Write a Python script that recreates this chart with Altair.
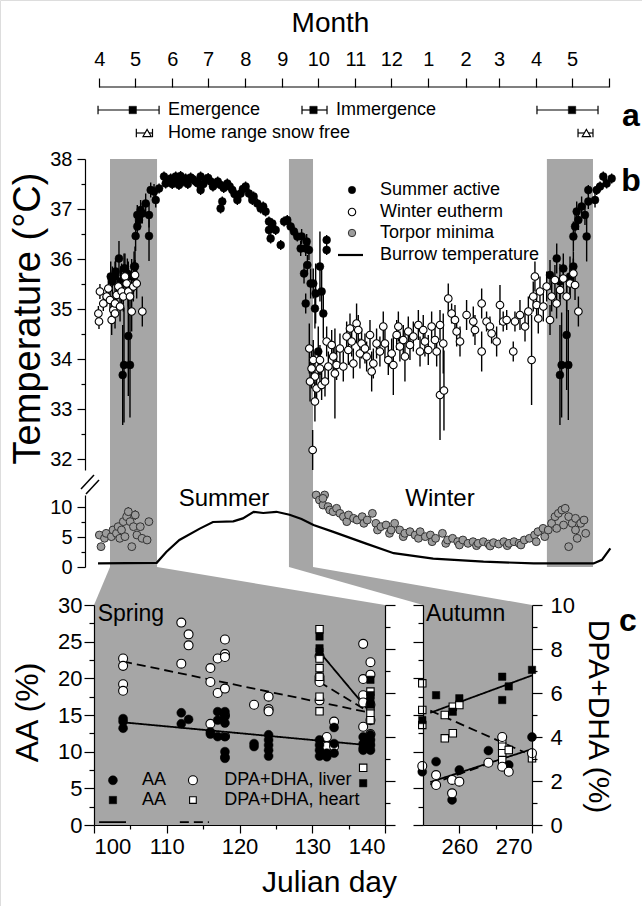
import altair as alt
import pandas as pd

FONT = "Liberation Sans"
W, H = 642, 906
BAND = "#a6a6a6"
TORPOR_FILL = "#9c9c9c"

# ---------------- panel a : months & phenology ----------------
month_days = [91, 121, 152, 182, 213, 244, 274, 305, 335, 366, 397, 425, 456, 486, 517]
month_labels = ["4", "5", "6", "7", "8", "9", "10", "11", "12", "1", "2", "3", "4", "5", ""]
emergence = [(90, 119, 141), (260.4, 270, 281.3), (456.7, 486, 507.7)]   # (lo, mean, hi)
snow_free = [(122, 131, 135.5), (491, 498, 503.5)]
phen_text = ["Emergence", "Immergence", "Home range snow free"]

# ---------------- panel b : body temperature ----------------
bands = [(100, 139.3), (249.5, 269.6), (465, 503.5)]
summer_active = [  # (julian day, Tb, sd)
    (100.6, 35.65, 0.3), (102.0, 35.55, 0.3), (104.2, 35.65, 0.3), (104.7, 35.75, 0.25), (107.5, 36.01, 0.35),
    (108.9, 35.55, 0.3), (109.7, 35.51, 0.4), (111.7, 35.81, 0.3), (112.5, 35.81, 0.3), (114.5, 35.71, 0.3),
    (115.3, 35.45, 0.5), (118.1, 35.65, 0.35), (120.1, 35.85, 0.3), (120.9, 35.85, 0.4), (120.1, 35.65, 0.3),
    (115.3, 34.46, 1.2), (110.6, 33.68, 1.0), (111.7, 33.88, 1.15), (116.7, 33.88, 1.05),
    (121.4, 36.46, 0.3), (122.8, 36.65, 0.25), (124.2, 36.78, 0.2), (122.8, 36.88, 0.2), (125.6, 36.98, 0.2),
    (127.0, 36.91, 0.2), (129.8, 37.11, 0.2), (132.6, 36.88, 0.25), (132.6, 36.46, 0.5), (134.0, 37.38, 0.15),
    (136.8, 37.35, 0.15), (138.2, 37.18, 0.15), (141.0, 37.41, 0.1), (145.1, 37.65, 0.1), (146.5, 37.51, 0.1),
    (148.0, 37.55, 0.1), (150.7, 37.61, 0.1), (152.0, 37.50, 0.1), (154.9, 37.65, 0.1), (156.0, 37.58, 0.1),
    (157.6, 37.48, 0.1), (159.0, 37.66, 0.1), (161.0, 37.55, 0.1), (163.2, 37.61, 0.1), (165.0, 37.50, 0.1),
    (167.4, 37.63, 0.1), (169.0, 37.60, 0.1), (171.6, 37.55, 0.1), (173.0, 37.52, 0.1), (175.7, 37.65, 0.1),
    (175.7, 37.38, 0.1), (178.0, 37.50, 0.1), (179.9, 37.59, 0.1), (182.0, 37.62, 0.1), (184.1, 37.55, 0.1),
    (186.0, 37.45, 0.1), (188.3, 37.51, 0.1), (190.0, 37.55, 0.1), (192.4, 37.48, 0.1), (192.4, 37.01, 0.1),
    (193.8, 37.15, 0.1), (195.0, 37.42, 0.1), (198.0, 37.51, 0.1), (200.0, 37.45, 0.1), (202.2, 37.38, 0.1),
    (204.0, 37.30, 0.1), (206.4, 37.18, 0.1), (209.2, 37.31, 0.1), (211.0, 37.40, 0.1), (213.3, 37.45, 0.1),
    (216.1, 37.31, 0.1), (218.9, 37.18, 0.1), (220.0, 37.25, 0.1), (223.1, 37.11, 0.1), (225.9, 37.01, 0.1),
    (228.0, 37.05, 0.1), (230.0, 36.95, 0.1), (232.8, 36.75, 0.1), (235.6, 36.71, 0.1), (232.8, 36.58, 0.1),
    (238.4, 36.58, 0.1), (234.2, 36.41, 0.1), (242.6, 36.28, 0.1), (245.4, 36.75, 0.1), (248.1, 36.78, 0.1),
    (250.9, 36.65, 0.1), (253.7, 36.55, 0.1), (256.5, 36.45, 0.1), (259.3, 36.21, 0.15), (260.1, 36.45, 0.15),
    (263.5, 36.21, 0.15), (264.3, 36.35, 0.15), (266.2, 36.18, 0.2), (264.9, 35.88, 0.2), (262.1, 35.71, 0.2),
    (267.6, 35.51, 0.3), (263.5, 35.11, 0.2), (269.8, 35.51, 0.3), (271.8, 35.31, 0.6), (271.2, 35.01, 0.4),
    (275.4, 35.85, 0.7), (276.8, 35.35, 0.5), (278.2, 34.91, 0.5), (281.0, 36.38, 0.1), (281.0, 36.18, 0.1),
    (274.0, 34.15, 0.5),
    (467.6, 35.68, 0.3), (473.2, 36.01, 0.3), (475.9, 35.55, 0.35), (478.7, 35.81, 0.3), (484.3, 35.65, 0.4),
    (487.1, 35.85, 0.3), (481.5, 34.48, 1.1), (477.3, 33.88, 1.05), (482.9, 33.88, 1.1), (475.9, 33.68, 1.0),
    (487.1, 36.45, 0.3), (498.2, 36.45, 0.5), (488.5, 36.65, 0.25), (491.3, 36.78, 0.2), (489.9, 36.95, 0.2),
    (496.8, 36.88, 0.2), (494.0, 37.05, 0.2), (499.6, 37.15, 0.15), (505.2, 37.18, 0.15), (499.6, 37.38, 0.1),
    (506.6, 37.38, 0.1), (509.4, 37.45, 0.1), (514.9, 37.51, 0.1), (512.1, 37.65, 0.1), (519.1, 37.61, 0.1),
]
winter_eutherm = [
    (90.8, 34.75, 0.15), (90.3, 34.91, 0.15), (91.6, 35.35, 0.15), (94.4, 35.11, 0.15), (97.2, 35.25, 0.2),
    (98.6, 35.41, 0.2), (100.0, 35.18, 0.2), (101.4, 34.78, 0.3), (102.8, 34.98, 0.2), (104.2, 35.11, 0.2),
    (104.2, 34.91, 0.3), (105.6, 35.28, 0.2), (107.0, 35.45, 0.2), (108.4, 35.05, 0.3), (109.7, 35.35, 0.2),
    (111.1, 35.25, 0.3), (112.5, 35.65, 0.2), (113.9, 35.51, 0.2), (115.3, 35.35, 0.3), (116.7, 35.25, 0.3),
    (118.1, 34.95, 0.4), (119.5, 35.45, 0.3), (120.9, 35.68, 0.3), (122.3, 35.51, 0.3), (127.0, 34.95, 0.3),
    (266.5, 34.21, 0.5), (269.3, 32.18, 0.4), (269.8, 33.98, 0.4), (268.4, 33.81, 0.4), (271.2, 33.65, 0.5),
    (267.1, 33.55, 0.4), (272.6, 33.41, 0.3), (271.2, 33.15, 0.4), (275.4, 33.98, 0.3), (276.8, 33.48, 0.3),
    (279.6, 33.55, 0.3), (275.4, 33.81, 0.3), (281.0, 34.35, 0.3), (282.4, 33.85, 0.3), (285.2, 34.28, 0.3),
    (286.5, 34.05, 0.3), (287.9, 33.71, 0.9), (289.3, 33.88, 0.3), (292.1, 34.21, 0.3), (294.9, 33.85, 0.3),
    (297.7, 34.45, 0.3), (299.1, 34.18, 0.3), (300.5, 34.61, 0.3), (301.9, 34.35, 0.3), (303.3, 33.91, 0.3),
    (306.0, 34.71, 0.4), (307.4, 34.58, 0.3), (308.8, 34.11, 0.3), (310.2, 34.31, 0.3), (313.0, 34.21, 0.3),
    (314.4, 34.05, 0.3), (317.2, 34.48, 0.3), (318.6, 33.75, 0.4), (320.0, 33.91, 0.3), (322.7, 34.31, 0.3),
    (325.5, 34.15, 0.3), (328.3, 34.65, 0.3), (329.7, 34.31, 0.3), (332.5, 33.98, 0.3), (335.3, 34.11, 0.3),
    (336.7, 33.88, 0.6), (339.5, 34.48, 0.3), (340.9, 34.65, 0.3), (342.2, 34.25, 0.3), (345.0, 34.38, 0.3),
    (346.4, 34.05, 0.5), (349.2, 34.55, 0.3), (350.6, 34.28, 0.3), (353.4, 34.45, 0.3), (357.6, 34.68, 0.3),
    (359.0, 34.15, 0.3), (361.7, 34.58, 0.3), (363.1, 34.35, 0.3), (365.9, 34.18, 0.3), (368.7, 34.65, 0.3),
    (371.5, 34.38, 0.3), (372.9, 34.15, 0.3), (375.7, 34.68, 0.3), (375.7, 33.28, 0.9), (379.0, 33.37, 0.8),
    (378.4, 34.31, 0.6), (382.6, 35.21, 0.3), (385.4, 34.91, 0.2), (388.2, 34.78, 0.3), (389.6, 34.55, 0.3),
    (392.4, 34.35, 0.3), (397.9, 34.88, 0.3), (403.5, 34.75, 0.3), (404.9, 34.58, 0.3), (410.5, 35.11, 0.3),
    (410.5, 34.15, 0.4), (414.6, 34.75, 0.2), (417.4, 34.65, 0.2), (418.8, 34.51, 0.2), (423.0, 34.35, 0.3),
    (425.8, 35.08, 0.4), (428.5, 34.75, 0.2), (431.4, 34.78, 0.2), (436.9, 34.15, 0.2), (438.3, 34.75, 0.2),
    (442.5, 34.88, 0.3), (446.7, 34.65, 0.3), (449.5, 34.95, 0.3), (452.2, 33.98, 0.9), (453.6, 35.25, 0.3),
    (456.4, 35.08, 0.3), (457.8, 34.81, 0.3), (455.0, 35.65, 0.3), (459.2, 35.35, 0.3), (462.0, 35.05, 0.3),
    (464.8, 35.45, 0.3), (467.6, 34.78, 0.3), (469.0, 35.25, 0.3), (471.7, 35.58, 0.3), (473.1, 35.11, 0.3),
    (476.0, 35.38, 0.3), (478.7, 35.61, 0.3), (481.5, 35.25, 0.3), (484.3, 35.51, 0.3), (487.1, 35.71, 0.3),
    (488.5, 35.48, 0.3), (491.3, 34.95, 0.3),
]
torpor_minima = [  # (julian day, Tb, sd)
    (91.1, 5.33, 0.3), (92.5, 3.39, 0.3), (95.4, 4.78, 0.3), (96.8, 5.61, 0.6), (101.1, 5.06, 0.3),
    (102.5, 6.17, 0.3), (105.4, 5.61, 0.3), (106.8, 6.72, 0.6), (108.2, 4.78, 0.3), (109.6, 6.17, 0.3),
    (111.1, 7.56, 0.3), (112.5, 5.06, 0.3), (113.9, 8.39, 0.3), (115.3, 9.22, 0.8), (116.8, 7.56, 0.3),
    (118.2, 3.39, 0.3), (119.6, 6.72, 0.3), (121.1, 8.67, 0.8), (122.5, 5.33, 0.3), (125.3, 6.72, 0.3),
    (126.8, 4.78, 0.3), (131.0, 4.5, 0.3), (132.5, 7.56, 0.3),
    (272.2, 12.0, 0.3), (279.3, 12.0, 0.3), (275.0, 11.17, 0.3), (277.9, 10.33, 0.3), (277.9, 11.44, 0.3),
    (282.2, 10.06, 0.3), (283.6, 9.5, 0.3), (286.4, 9.22, 0.3), (289.3, 9.78, 0.3), (292.1, 8.94, 0.3),
    (295.0, 8.39, 0.3), (297.8, 7.56, 0.3), (299.3, 8.67, 0.3), (303.5, 8.11, 0.3), (306.4, 7.83, 0.3),
    (310.7, 8.39, 0.3), (312.1, 7.28, 0.3), (314.9, 7.83, 0.3), (319.2, 8.94, 0.6), (322.1, 7.28, 0.3),
    (323.5, 6.17, 0.3), (326.3, 6.72, 0.3), (330.6, 7.0, 0.3), (333.5, 5.61, 0.3), (334.9, 6.17, 0.3),
    (337.8, 7.28, 0.3), (342.0, 6.17, 0.3), (345.0, 5.06, 0.3), (346.3, 5.61, 0.3), (350.6, 5.89, 0.3),
    (354.9, 5.33, 0.3), (357.7, 4.78, 0.3), (359.1, 5.89, 0.3), (363.4, 5.06, 0.3), (367.7, 5.33, 0.3),
    (369.1, 4.22, 0.3), (372.0, 4.78, 0.3), (377.7, 5.61, 0.5), (380.5, 3.94, 0.3), (382.0, 4.5, 0.3),
    (386.2, 4.78, 0.3), (390.5, 4.22, 0.3), (391.9, 3.67, 0.3), (394.8, 4.5, 0.3), (399.1, 3.94, 0.3),
    (403.3, 4.22, 0.3), (406.2, 3.56, 0.3), (407.6, 3.94, 0.3), (411.9, 4.22, 0.3), (416.2, 3.83, 0.3),
    (417.6, 3.5, 0.3), (420.4, 4.06, 0.3), (424.7, 3.83, 0.3), (429.0, 4.22, 0.3), (431.9, 3.56, 0.3),
    (433.3, 3.94, 0.3), (437.5, 4.22, 0.3), (441.8, 3.94, 0.3), (443.3, 3.67, 0.3), (446.1, 4.5, 0.3),
    (450.4, 4.78, 0.3), (454.7, 5.33, 0.3), (456.1, 4.22, 0.3), (457.5, 5.89, 0.3), (461.8, 6.44, 0.3),
    (463.2, 5.06, 0.3), (466.1, 6.17, 0.3), (468.9, 7.28, 0.3), (471.8, 8.39, 0.3), (473.2, 6.44, 0.3),
    (474.6, 8.94, 0.3), (477.5, 9.5, 0.6), (478.9, 7.0, 0.3), (480.3, 9.78, 0.7), (483.2, 8.39, 0.3),
    (483.2, 3.39, 0.3), (486.1, 7.28, 0.3), (488.9, 6.17, 0.3), (488.9, 8.11, 0.3), (490.3, 4.78, 0.3),
    (493.2, 7.28, 0.3), (496.0, 7.83, 0.3), (497.4, 5.61, 0.3),
]
burrow_temp = [(90, 0.6), (139, 0.7), (147, 2.5), (158, 4.5), (175, 6.4), (186, 7.5), (203, 7.6), (211, 8.1),
               (220, 9.2), (228, 9.0), (239, 9.2), (250, 8.7), (260, 8.0), (270, 7.0), (286, 5.9), (314, 3.9),
               (337, 2.3), (370, 1.4), (412, 0.9), (454, 0.6), (504, 0.6), (511, 1.2), (518, 3.1)]
legend_b = ["Summer active", "Winter eutherm", "Torpor minima", "Burrow temperature"]

# ---------------- panel c : fatty acids ----------------
spring_aa_liver = [(104, 14.5), (104, 14.1), (104, 13.2), (112, 15.3), (112, 13.8), (113, 14.4), (116, 12.7),
                   (116, 12.4), (117, 15.45), (117, 14.3), (117, 12.05), (118, 15.45), (118, 14.8), (118, 13.9),
                   (118, 12.05), (118, 10.0), (118, 9.3), (118, 9.1), (122, 11.1), (122, 10.7), (124, 12.3),
                   (124, 11.6), (124, 10.9), (124, 10.2), (124, 9.4), (131, 11.6), (131, 10.9), (131, 10.2),
                   (131, 9.4), (132, 9.8), (132, 9.3), (133, 13.3), (133, 11.1), (133, 9.8), (137, 12.0),
                   (137, 11.1), (137, 10.5), (137, 10.2), (138, 11.6), (138, 10.9), (138, 10.2), (138, 12.3)]
spring_aa_heart = [(131, 25.7), (131, 24.1), (131, 23.6), (137, 5.7), (138, 19.8), (138, 17.7), (138, 17.3),
                   (138, 16.4), (138, 11.5), (138, 10.8)]
spring_dpa_liver = [(104, 22.7), (104, 21.7), (104, 19.2), (104, 18.3), (112, 27.6), (112, 22.0), (113, 26.0),
                    (113, 24.5), (116, 21.4), (116, 19.5), (116, 13.8), (117, 22.7), (117, 18.0), (118, 25.3),
                    (118, 23.3), (118, 22.9), (118, 18.6), (118, 15.0), (118, 12.1), (122, 16.4), (124, 17.5),
                    (124, 15.8), (124, 15.5), (131, 23.0), (131, 20.2), (131, 19.8), (131, 19.5), (131, 17.0),
                    (132, 12.0), (132, 10.7), (133, 14.1), (133, 10.7), (137, 24.7), (137, 19.9), (137, 17.7),
                    (137, 16.7), (137, 13.4), (138, 22.2), (138, 20.5), (138, 16.4), (138, 14.3), (138, 12.4)]
spring_dpa_heart = [(131, 26.7), (131, 22.7), (131, 21.4), (131, 20.2), (131, 17.5), (131, 15.5), (137, 7.8),
                    (138, 18.2), (138, 16.1), (138, 15.2), (138, 14.3)]
spring_fits = [("aa_l", "solid", 104, 14.0), ("aa_l", "solid", 137.5, 10.9),
               ("dpa_l", "dashed", 104, 22.3), ("dpa_l", "dashed", 138, 15.3),
               ("aa_h", "solid", 131, 23.6), ("aa_h", "solid", 138, 15.3),
               ("dpa_h", "dashed", 131, 19.5), ("dpa_h", "dashed", 138, 15.3)]
autumn_aa_heart = [(254.9, 4.77), (256.8, 5.9), (259.1, 5.15), (260, 5.76), (265.9, 6.74), (265.9, 5.68),
                   (266.8, 6.3), (270, 7.05)]
autumn_dpa_heart = [(254.9, 6.44), (254.9, 5.23), (254.9, 4.55), (258, 5.0), (258, 3.94), (259.1, 4.17),
                    (259.1, 5.38), (260, 5.45), (265.9, 3.86), (265.9, 3.56), (265.9, 3.26), (265.9, 2.95),
                    (266.8, 3.41), (270, 3.03)]
autumn_aa_liver = [(254.9, 2.42), (256.8, 2.88), (259.0, 1.14), (260, 2.5), (264, 3.38), (266.8, 2.73), (270, 4.0)]
autumn_dpa_liver = [(254.9, 2.68), (256.8, 2.27), (256.8, 1.82), (259, 2.05), (259, 1.44), (260, 1.97),
                    (264, 2.83), (265.9, 4.0), (265.9, 2.65), (266.8, 2.42), (270, 3.26)]
autumn_fits = [("aa_h", "solid", 256, 5.1), ("aa_h", "solid", 270, 6.8),
               ("dpa_h", "dashed", 256, 5.2), ("dpa_h", "dashed", 269, 3.3),
               ("aa_l", "solid", 256, 1.95), ("aa_l", "solid", 270, 3.45),
               ("dpa_l", "dashed", 256, 1.85), ("dpa_l", "dashed", 265, 2.9)]
legend_c = ["AA", "DPA+DHA, liver", "AA", "DPA+DHA, heart"]


# ================= helpers =================
def lin(domain, rng):
    return alt.Scale(domain=domain, range=rng, zero=False, nice=False)


PX_PER_DAY = 1.197


def px_day(px):          # panel a/b day axis: 110 px <-> day 100
    return 100 + (px - 110) / PX_PER_DAY


def day_px(d):
    return 110 + (d - 100) * PX_PER_DAY


S_DAY = lin([80, 530], [day_px(80), day_px(530)])
S_ROW = lin([0, 1], [110, 133])
S_UP = lin([31.78, 38], [470, 159])
S_LOW = lin([0, 12], [567, 495])
S_CON = lin([0, 1], [605, 567])
S_SPX = lin([100, 140], [94, 385])
S_P30 = lin([0, 30], [825, 605])
S_P10 = lin([0, 10], [825, 605])
S_AUX = lin([255, 270], [423, 532])
S_PX = lin([0, W], [0, W])          # frame scales used only for the axis-break glyph
S_PY = lin([0, H], [0, H])


def up_v(py):            # pixel row -> value on the upper temperature scale
    return 38 - (py - 159) / 50


def axis(orient, offset, values, size, labels=True, domain=True, **kw):
    base = dict(orient=orient, offset=offset, values=values, tickSize=size, labels=labels, domain=domain,
                grid=False, ticks=True, tickColor="black", tickWidth=1.2, domainColor="black", domainWidth=1.2,
                labelColor="black", labelFont=FONT, labelOverlap=False, titleFont=FONT, titleColor="black",
                titleFontWeight="normal", zindex=1)
    base.update(kw)
    if "title" not in base:
        base["title"] = None
    return alt.Axis(**base)


def ghost(xs, ys, xaxis=None, yaxis=None):
    df = pd.DataFrame({"gx": [xs.domain[0]], "gy": [ys.domain[0]]})
    return alt.Chart(df).mark_point(opacity=0, size=1).encode(
        x=alt.X("gx:Q", scale=xs, axis=xaxis), y=alt.Y("gy:Q", scale=ys, axis=yaxis))


def txt(size, align="left", bold=False, angle=0):
    return dict(font=FONT, fontSize=size, align=align, baseline="middle", color="black",
                fontWeight="bold" if bold else "normal", angle=angle)


OPEN = dict(filled=True, fill="white", stroke="black", strokeWidth=1.1, opacity=1)
SOLID = dict(filled=True, fill="black", stroke="black", strokeWidth=0.5, opacity=1)

# ================= panel a =================
label_list = "[" + ",".join("'%s'" % l for l in month_labels) + "]"
day_list = "[" + ",".join(str(d) for d in month_days) + "]"
AX_MONTH = axis("top", -87, month_days, 9, domain=False, labelFontSize=20, labelPadding=9,
                labelExpr=label_list + "[indexof(" + day_list + ", datum.value)]",
                title="Month", titleFontSize=28, titleX=330, titleY=-64, titleBaseline="middle",
                titleAlign="center", titleAngle=0)


def xa(f):
    return alt.X(f, type="quantitative", scale=S_DAY, axis=AX_MONTH)


def ya(f):
    return alt.Y(f, type="quantitative", scale=S_ROW, axis=None)


df_mline = pd.DataFrame({"m0": [month_days[0]], "m1": [month_days[-1]], "row": [-1]})
df_em = pd.DataFrame(emergence, columns=["lo", "mid", "hi"]).assign(row=0)
df_sn = pd.DataFrame(snow_free, columns=["lo", "mid", "hi"]).assign(row=1)
df_ph = pd.concat([df_em, df_sn], ignore_index=True)
df_caps = pd.concat([df_ph[["lo", "row"]].rename(columns={"lo": "c"}),
                     df_ph[["hi", "row"]].rename(columns={"hi": "c"})], ignore_index=True)
df_atxt = pd.DataFrame({"t": phen_text, "x": [px_day(168), px_day(336), px_day(168)], "row": [0, 0, 1]})
df_a = pd.DataFrame({"t": ["a"], "x": [px_day(631)], "row": [0.26]})

panel_a = alt.layer(
    alt.Chart(df_mline).mark_rule(color="black", strokeWidth=1.2).encode(x=xa("m0"), x2="m1:Q", y=ya("row")),
    alt.Chart(df_ph).mark_rule(color="black", strokeWidth=1.2).encode(x=xa("lo"), x2="hi:Q", y=ya("row")),
    alt.Chart(df_caps).mark_point(shape="M0,-1L0,1", size=70, stroke="black", strokeWidth=1.2, opacity=1)
    .encode(x=xa("c"), y=ya("row")),
    alt.Chart(df_em).mark_point(shape="square", size=55, **SOLID).encode(x=xa("mid"), y=ya("row")),
    alt.Chart(df_sn).mark_point(shape="triangle-up", size=70, **OPEN).encode(x=xa("mid"), y=ya("row")),
    alt.Chart(df_atxt).mark_text(**txt(18)).encode(x=xa("x"), y=ya("row"), text="t:N"),
    alt.Chart(df_a).mark_text(**txt(32, "center", True)).encode(x=xa("x"), y=ya("row"), text="t:N"),
)

# ================= panel b (upper) =================
AX_UP = axis("left", -85, [32, 33, 34, 35, 36, 37, 38], 8, labelFontSize=20, labelPadding=5,
             title="Temperature (°C)", titleFontSize=38, titleX=-57, titleY=318, titleAngle=270,
             titleBaseline="middle", titleAlign="center")


def xb(f):
    return alt.X(f, type="quantitative", scale=S_DAY, axis=None)


def yu(f):
    return alt.Y(f, type="quantitative", scale=S_UP, axis=AX_UP)


def with_err(rows, cols=("day", "t", "sd")):
    df = pd.DataFrame(rows, columns=list(cols))
    df["lo"] = df["t"] - df["sd"]
    df["hi"] = df["t"] + df["sd"]
    return df


df_bands = pd.DataFrame(bands, columns=["b0", "b1"]).assign(top=38.0, bot=up_v(567))
df_sa = with_err(summer_active)
df_we = with_err(winter_eutherm)
leg_y = [37.38, 36.94, 36.52, 36.08]
df_leg_txt = pd.DataFrame({"t": legend_b, "x": px_day(380), "y": leg_y})
df_leg_sa = pd.DataFrame({"x": [px_day(352)], "y": [leg_y[0]]})
df_leg_we = pd.DataFrame({"x": [px_day(352)], "y": [leg_y[1]]})
df_leg_tm = pd.DataFrame({"x": [px_day(352)], "y": [leg_y[2]]})
df_leg_ln = pd.DataFrame({"x": [px_day(338)], "x2": [px_day(363)], "y": [leg_y[3]]})
df_b = pd.DataFrame({"t": ["b"], "x": [px_day(631)], "y": [up_v(181)]})

panel_b_up = alt.layer(
    alt.Chart(df_bands).mark_rect(color=BAND).encode(x=xb("b0"), x2="b1:Q", y=yu("top"), y2="bot:Q"),
    alt.Chart(df_sa).mark_rule(color="black", strokeWidth=1.4).encode(x=xb("day"), y=yu("lo"), y2="hi:Q"),
    alt.Chart(df_we).mark_rule(color="black", strokeWidth=1.4).encode(x=xb("day"), y=yu("lo"), y2="hi:Q"),
    alt.Chart(df_sa).mark_point(shape="circle", size=62, **SOLID).encode(x=xb("day"), y=yu("t")),
    alt.Chart(df_we).mark_point(shape="circle", size=58, **OPEN).encode(x=xb("day"), y=yu("t")),
    alt.Chart(df_leg_sa).mark_point(shape="circle", size=55, **SOLID).encode(x=xb("x"), y=yu("y")),
    alt.Chart(df_leg_we).mark_point(shape="circle", size=55, **OPEN).encode(x=xb("x"), y=yu("y")),
    alt.Chart(df_leg_tm).mark_point(shape="circle", size=55, filled=True, fill=TORPOR_FILL, stroke="#333333",
                                    strokeWidth=1, opacity=1).encode(x=xb("x"), y=yu("y")),
    alt.Chart(df_leg_ln).mark_rule(color="black", strokeWidth=2.2).encode(x=xb("x"), x2="x2:Q", y=yu("y")),
    alt.Chart(df_leg_txt).mark_text(**txt(18)).encode(x=xb("x"), y=yu("y"), text="t:N"),
    alt.Chart(df_b).mark_text(**txt(32, "center", True)).encode(x=xb("x"), y=yu("y"), text="t:N"),
)
ghost_up = ghost(S_DAY, S_UP, yaxis=axis("left", -85, [32.5, 33.5, 34.5, 35.5, 36.5, 37.5], 4,
                                          labels=False, domain=False))

# axis-break glyph "//" crossing the temperature axis between the two scale segments
df_brk = pd.DataFrame({"bx": [81.0, 86.0], "bx2": [94.0, 99.0], "by": [489.0, 494.0], "by2": [475.0, 480.0]})
axis_break = alt.Chart(df_brk).mark_rule(color="black", strokeWidth=1.5).encode(
    x=alt.X("bx:Q", scale=S_PX, axis=None), x2="bx2:Q",
    y=alt.Y("by:Q", scale=S_PY, axis=None), y2="by2:Q")

# ================= panel b (lower) =================
AX_LOW = axis("left", -85, [0, 5, 10], 8, labelFontSize=20, labelPadding=5)


def yl(f):
    return alt.Y(f, type="quantitative", scale=S_LOW, axis=AX_LOW)


df_tm = with_err(torpor_minima)
df_bt = pd.DataFrame(burrow_temp, columns=["day", "v"])
df_season = pd.DataFrame({"t": ["Summer", "Winter"], "x": [px_day(224), px_day(440)], "y": [11.35, 11.35]})

panel_b_low = alt.layer(
    alt.Chart(df_bt).mark_line(color="black", strokeWidth=2.2).encode(x=xb("day"), y=yl("v")),
    alt.Chart(df_tm).mark_rule(color="black", strokeWidth=1.2).encode(x=xb("day"), y=yl("lo"), y2="hi:Q"),
    alt.Chart(df_tm).mark_point(shape="circle", size=62, filled=True, fill=TORPOR_FILL, stroke="#333333",
                                strokeWidth=1, opacity=1).encode(x=xb("day"), y=yl("t")),
    alt.Chart(df_season).mark_text(**txt(24, "center")).encode(x=xb("x"), y=yl("y"), text="t:N"),
)
ghost_low = ghost(S_DAY, S_LOW, yaxis=axis("left", -85, [2.5, 7.5], 4, labels=False, domain=False))

# ================= connectors =================
conn_layers = []
for top0, top1, bot0, bot1 in [(bands[0][0], bands[0][1], px_day(94), px_day(385)),
                               (bands[1][0], bands[1][1], px_day(423), px_day(532))]:
    dfc = pd.DataFrame({"y": [1, 0], "x": [top0, bot0], "x2": [top1, bot1]})
    conn_layers.append(
        alt.Chart(dfc).mark_area(orient="horizontal", color=BAND, opacity=1).encode(
            y=alt.Y("y:Q", scale=S_CON, axis=None),
            x=alt.X("x:Q", scale=S_DAY, axis=None, stack=None), x2="x2:Q"))
connectors = alt.layer(*conn_layers)

# ================= panel c : spring =================
AX_SPX = axis("bottom", -81, [100, 110, 120, 130, 140], 8, labelFontSize=22, labelPadding=3,
              title="Julian day", titleFontSize=30, titleX=329, titleY=57, titleBaseline="middle",
              titleAlign="center", titleAngle=0)
AX_AA = axis("left", -94, [0, 5, 10, 15, 20, 25, 30], 10, labelFontSize=22, labelPadding=2,
             title="AA (%)", titleFontSize=32, titleX=-67, titleY=712, titleAngle=270,
             titleBaseline="middle", titleAlign="center")


def xs(f):
    return alt.X(f, type="quantitative", scale=S_SPX, axis=AX_SPX)


def ys(f):
    return alt.Y(f, type="quantitative", scale=S_P30, axis=AX_AA)


DASH = alt.StrokeDash("dash:N", scale=alt.Scale(domain=["solid", "dashed"], range=[[1, 0], [9, 5]]), legend=None)


def pts(rows):
    return pd.DataFrame(rows, columns=["day", "v"])


df_sp_bg = pd.DataFrame({"x0": [100], "x1": [140], "y0": [0], "y1": [30]})
df_sp_fit = pd.DataFrame(spring_fits, columns=["id", "dash", "day", "v"])
df_sp_legline = pd.DataFrame({"id": ["s", "s", "d", "d"], "dash": ["solid", "solid", "dashed", "dashed"],
                              "day": [100.7, 104.4, 111.8, 115.8], "v": [0.4, 0.4, 0.4, 0.4]})
leg_cx = [102.6, 113.6]
leg_cy = [6.1, 3.4]
df_lc_fc = pd.DataFrame({"day": [leg_cx[0]], "v": [leg_cy[0]]})
df_lc_oc = pd.DataFrame({"day": [leg_cx[1]], "v": [leg_cy[0]]})
df_lc_fs = pd.DataFrame({"day": [leg_cx[0]], "v": [leg_cy[1]]})
df_lc_os = pd.DataFrame({"day": [leg_cx[1]], "v": [leg_cy[1]]})
df_lc_txt = pd.DataFrame({"t": legend_c, "day": [106.6, 117.9, 106.6, 117.9],
                          "v": [leg_cy[0], leg_cy[0], leg_cy[1], leg_cy[1]]})
df_spring = pd.DataFrame({"t": ["Spring"], "day": [100.5], "v": [28.8]})

panel_sp = alt.layer(
    alt.Chart(df_sp_bg).mark_rect(color=BAND).encode(x=xs("x0"), x2="x1:Q", y=ys("y0"), y2="y1:Q"),
    alt.Chart(df_sp_fit).mark_line(color="black", strokeWidth=1.8).encode(x=xs("day"), y=ys("v"), detail="id:N",
                                                                          strokeDash=DASH),
    alt.Chart(df_sp_legline).mark_line(color="black", strokeWidth=1.8).encode(x=xs("day"), y=ys("v"),
                                                                              detail="id:N", strokeDash=DASH),
    alt.Chart(pts(spring_dpa_liver)).mark_point(shape="circle", size=80, **OPEN).encode(x=xs("day"), y=ys("v")),
    alt.Chart(pts(spring_dpa_heart)).mark_point(shape="square", size=55, **OPEN).encode(x=xs("day"), y=ys("v")),
    alt.Chart(pts(spring_aa_liver)).mark_point(shape="circle", size=80, **SOLID).encode(x=xs("day"), y=ys("v")),
    alt.Chart(pts(spring_aa_heart)).mark_point(shape="square", size=55, **SOLID).encode(x=xs("day"), y=ys("v")),
    alt.Chart(df_lc_fc).mark_point(shape="circle", size=80, **SOLID).encode(x=xs("day"), y=ys("v")),
    alt.Chart(df_lc_oc).mark_point(shape="circle", size=80, **OPEN).encode(x=xs("day"), y=ys("v")),
    alt.Chart(df_lc_fs).mark_point(shape="square", size=55, **SOLID).encode(x=xs("day"), y=ys("v")),
    alt.Chart(df_lc_os).mark_point(shape="square", size=45, **OPEN).encode(x=xs("day"), y=ys("v")),
    alt.Chart(df_lc_txt).mark_text(**txt(18)).encode(x=xs("day"), y=ys("v"), text="t:N"),
    alt.Chart(df_spring).mark_text(**txt(23)).encode(x=xs("day"), y=ys("v"), text="t:N"),
)
g_sp_xminor = ghost(S_SPX, S_P30, xaxis=axis("bottom", -81, [105, 115, 125, 135], 4, labels=False, domain=False))
g_sp_yminor = ghost(S_SPX, S_P30, yaxis=axis("left", -94, [2.5, 7.5, 12.5, 17.5, 22.5, 27.5], 5,
                                             labels=False, domain=False))
g_sp_rmajor = ghost(S_SPX, S_P10, yaxis=axis("right", -(W - 385), [0, 2, 4, 6, 8, 10], 10, labels=False))
g_sp_rminor = ghost(S_SPX, S_P10, yaxis=axis("right", -(W - 385), [1, 3, 5, 7, 9], 5, labels=False,
                                             domain=False))

# ================= panel c : autumn =================
g_au_lmajor = ghost(S_AUX, S_P30, yaxis=axis("left", -423, [0, 5, 10, 15, 20, 25, 30], 10, labels=False))
g_au_lminor = ghost(S_AUX, S_P30, yaxis=axis("left", -423, [2.5, 7.5, 12.5, 17.5, 22.5, 27.5], 5,
                                             labels=False, domain=False))
AX_AUX = axis("bottom", -81, [260, 270], 8, labelFontSize=22, labelPadding=3)
AX_DPA = axis("right", -(W - 532), [0, 2, 4, 6, 8, 10], 10, labelFontSize=22, labelPadding=8,
              title="DPA+DHA (%)", titleFontSize=30, titleX=65, titleY=716, titleAngle=90,
              titleBaseline="middle", titleAlign="center")


def xu(f):
    return alt.X(f, type="quantitative", scale=S_AUX, axis=AX_AUX)


def yd(f):
    return alt.Y(f, type="quantitative", scale=S_P10, axis=AX_DPA)


df_au_bg = pd.DataFrame({"x0": [255], "x1": [270], "y0": [0], "y1": [10]})
df_au_fit = pd.DataFrame(autumn_fits, columns=["id", "dash", "day", "v"])
df_autumn = pd.DataFrame({"t": ["Autumn"], "day": [255.4], "v": [9.57]})
df_c = pd.DataFrame({"t": ["c"], "day": [255 + (628 - 423) / 7.267], "v": [9.27]})

panel_au = alt.layer(
    alt.Chart(df_au_bg).mark_rect(color=BAND).encode(x=xu("x0"), x2="x1:Q", y=yd("y0"), y2="y1:Q"),
    alt.Chart(df_au_fit).mark_line(color="black", strokeWidth=1.8).encode(x=xu("day"), y=yd("v"), detail="id:N",
                                                                          strokeDash=DASH),
    alt.Chart(pts(autumn_dpa_heart)).mark_point(shape="square", size=55, **OPEN).encode(x=xu("day"), y=yd("v")),
    alt.Chart(pts(autumn_aa_heart)).mark_point(shape="square", size=55, **SOLID).encode(x=xu("day"), y=yd("v")),
    alt.Chart(pts(autumn_aa_liver)).mark_point(shape="circle", size=80, **SOLID).encode(x=xu("day"), y=yd("v")),
    alt.Chart(pts(autumn_dpa_liver)).mark_point(shape="circle", size=80, **OPEN).encode(x=xu("day"), y=yd("v")),
    alt.Chart(df_autumn).mark_text(**txt(23)).encode(x=xu("day"), y=yd("v"), text="t:N"),
    alt.Chart(df_c).mark_text(**txt(32, "center", True)).encode(x=xu("day"), y=yd("v"), text="t:N"),
)
g_au_xminor = ghost(S_AUX, S_P10, xaxis=axis("bottom", -81, [265], 4, labels=False, domain=False))
g_au_yminor = ghost(S_AUX, S_P10, yaxis=axis("right", -(W - 532), [1, 3, 5, 7, 9], 5, labels=False,
                                             domain=False))

chart = alt.layer(
    connectors, panel_b_up, ghost_up, panel_b_low, ghost_low, axis_break, panel_a,
    panel_sp, g_sp_xminor, g_sp_yminor, g_sp_rmajor, g_sp_rminor,
    g_au_lmajor, g_au_lminor, panel_au, g_au_xminor, g_au_yminor,
).resolve_scale(x="independent", y="independent", strokeDash="shared").properties(
    width=W, height=H, autosize=alt.AutoSizeParams(type="none"), padding=0
).configure_view(stroke=None).configure(font=FONT)

chart.save("out.html", embed_options={"renderer": "svg", "actions": False})
